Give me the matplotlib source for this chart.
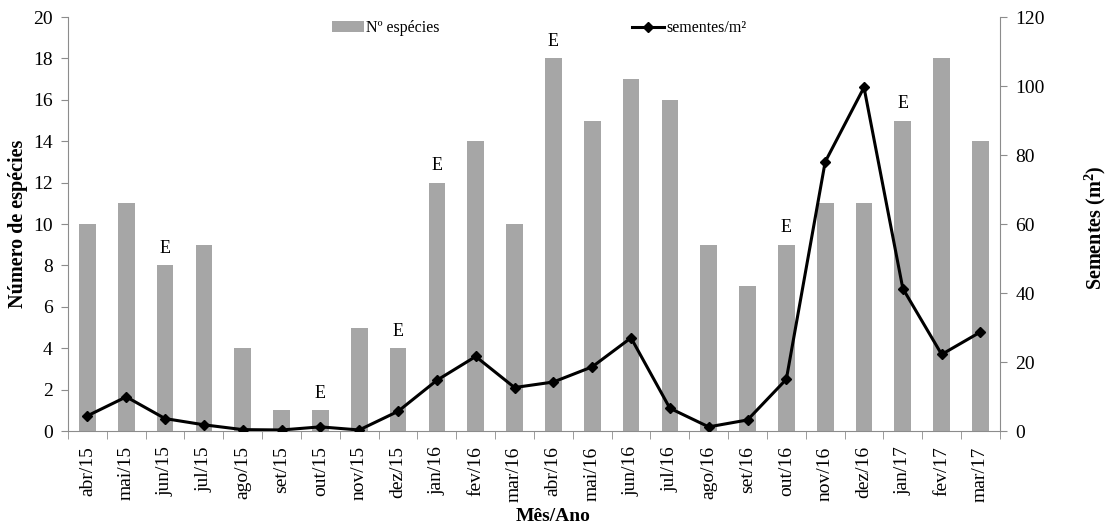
import matplotlib.pyplot as plt
from matplotlib.ticker import MultipleLocator, FixedLocator
import numpy as np

plt.rcParams['font.family'] = ['Liberation Serif', 'DejaVu Serif']
plt.rcParams['mathtext.fontset'] = 'custom'
plt.rcParams['mathtext.rm'] = 'Liberation Serif'
plt.rcParams['mathtext.bf'] = 'Liberation Serif:bold'

meses = ["abr/15", "mai/15", "jun/15", "jul/15", "ago/15", "set/15", "out/15", "nov/15",
         "dez/15", "jan/16", "fev/16", "mar/16", "abr/16", "mai/16", "jun/16", "jul/16",
         "ago/16", "set/16", "out/16", "nov/16", "dez/16", "jan/17", "fev/17", "mar/17"]
especies = [10, 11, 8, 9, 4, 1, 1, 5, 4, 12, 14, 10, 18, 15, 17, 16, 9, 7, 9, 11, 11, 15, 18, 14]
sementes = [4.4, 9.9, 3.6, 1.8, 0.4, 0.3, 1.2, 0.3, 5.7, 14.7, 21.6, 12.6, 14.2, 18.6, 27.0,
            6.6, 1.2, 3.2, 15.0, 78.0, 99.6, 41.3, 22.2, 28.7]
marcados = ["jun/15", "out/15", "dez/15", "jan/16", "abr/16", "out/16", "jan/17"]

grey = "#a6a6a6"
spine = "#8c8c8c"

fig = plt.figure(figsize=(11.11, 5.28), dpi=100)
ax = fig.add_axes([0.0612, 0.1837, 0.8388, 0.7841])
ax2 = ax.twinx()

x = np.arange(len(meses))
ax.bar(x, especies, width=0.43, color=grey, label="Nº espécies", zorder=2)
for i, m in enumerate(meses):
    if m in marcados:
        ax.text(x[i], especies[i] + 0.4, "E", ha="center", va="bottom", fontsize=13)

ax2.plot(x, sementes, color="black", lw=2.2, marker="D", markersize=5,
         label="sementes/m²", zorder=3)

ax.set_xlim(-0.5, len(meses) - 0.5)
ax.set_ylim(0, 20)
ax2.set_ylim(0, 120)
ax.yaxis.set_major_locator(MultipleLocator(2))
ax2.yaxis.set_major_locator(MultipleLocator(20))

ax.set_xticks(x)
ax.set_xticklabels(meses, rotation=90, fontsize=14)
ax.xaxis.set_minor_locator(FixedLocator(np.arange(-0.5, len(meses), 1)))
ax.tick_params(axis="x", which="major", length=0, pad=11)
ax.tick_params(axis="x", which="minor", length=6, color=spine, direction="out")
ax.tick_params(axis="y", labelsize=14, length=5, color=spine, pad=6)
ax2.tick_params(axis="y", labelsize=14, length=5, color=spine, pad=6)

for a in (ax, ax2):
    a.spines["top"].set_visible(False)
    for s in ("left", "right", "bottom"):
        a.spines[s].set_color(spine)
ax2.spines["left"].set_visible(False)
ax.spines["right"].set_visible(False)
ax2.spines["bottom"].set_visible(False)

ax.set_xlabel("Mês/Ano", fontsize=14, fontweight="bold")
ax.xaxis.set_label_coords(0.52, -0.186)
ax.set_ylabel("Número de espécies", fontsize=14.5, fontweight="bold", va="center")
ax.yaxis.set_label_coords(-0.054, 0.5)
ax2.set_ylabel(r"Sementes (m$^{\mathbf{2}}$)", fontsize=14.5, fontweight="bold", va="center")
ax2.yaxis.set_label_coords(1.102, 0.49)

h1, l1 = ax.get_legend_handles_labels()
h2, l2 = ax2.get_legend_handles_labels()
ax.legend(h1, l1, frameon=False, fontsize=11.5, loc="center left",
          bbox_to_anchor=(0.283, 0.973), borderpad=0, borderaxespad=0,
          handlelength=2.0, handletextpad=0.15)
ax2.legend(h2, l2, frameon=False, fontsize=11.5, loc="center left",
           bbox_to_anchor=(0.605, 0.973), borderpad=0, borderaxespad=0,
           handlelength=2.0, handletextpad=0.15)

fig.savefig("out.png", dpi=100)
